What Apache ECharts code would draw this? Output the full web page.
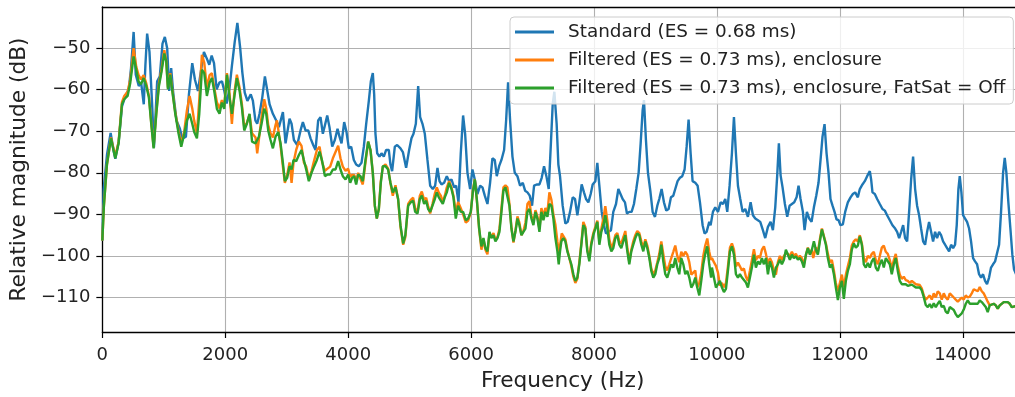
<!DOCTYPE html>
<html>
<head>
<meta charset="utf-8">
<script src="https://cdn.jsdelivr.net/npm/echarts@6/dist/echarts.min.js"></script>
<style>
html,body{margin:0;padding:0;background:#fff;}
#chart{width:1015px;height:397px;}
</style>
</head>
<body>
<div id="chart"></div>
<script>
// ---- tick labels ----
const xTicks = [0, 2000, 4000, 6000, 8000, 10000, 12000, 14000];
const yTicks = [-110, -100, -90, -80, -70, -60, -50];

// ---- series names ----
const seriesNames = [
  'Standard (ES = 0.68 ms)',
  'Filtered (ES = 0.73 ms), enclosure',
  'Filtered (ES = 0.73 ms), enclosure, FatSat = Off'
];

// ---- series values: [frequency Hz, relative magnitude dB] ----
const standardData = [[0,-96.3],[21,-84],[76,-75.6],[135,-70.4],[184,-74.8],[211,-76.6],[266,-72.5],[320,-64.0],[375,-61.5],[430,-59.9],[467,-54.8],[509,-46.1],[544,-56.4],[593,-59.1],[631,-58.3],[674,-63.5],[701,-54.0],[729,-46.5],[767,-50.9],[810,-63.5],[840,-73.9],[892,-58.0],[935,-56.8],[979,-48.9],[1017,-47.3],[1055,-50.0],[1088,-60.3],[1120,-54.8],[1153,-60.7],[1207,-67.4],[1262,-69.4],[1300,-71.8],[1360,-71.3],[1409,-61.1],[1463,-53.6],[1507,-57.6],[1556,-60.3],[1599,-56.0],[1653,-50.9],[1697,-52.4],[1740,-54.0],[1779,-51.8],[1817,-53.6],[1860,-59.9],[1904,-58.3],[1947,-58.0],[1985,-60.3],[2023,-63.3],[2067,-59.9],[2110,-54.0],[2154,-48.5],[2197,-43.9],[2241,-49.7],[2279,-56.0],[2317,-60.7],[2360,-62.7],[2415,-61.1],[2449,-62.6],[2490,-67.4],[2520,-68.2],[2558,-65.8],[2602,-61.9],[2645,-56.8],[2677,-56.4],[2721,-63.5],[2775,-65.8],[2829,-67.4],[2873,-69.0],[2938,-65.4],[2981,-72.9],[3046,-67.0],[3079,-68.2],[3117,-72.1],[3171,-73.3],[3225,-69.8],[3263,-67.8],[3306,-69.8],[3350,-69.8],[3388,-71.7],[3431,-73.3],[3469,-74.5],[3512,-67.4],[3550,-66.6],[3588,-70.6],[3621,-68.6],[3659,-66.2],[3696,-69.0],[3740,-73.7],[3783,-72.1],[3827,-69.4],[3859,-71.3],[3892,-72.9],[3935,-67.8],[3973,-70.2],[4011,-74.1],[4049,-73.7],[4092,-76.9],[4130,-78.0],[4173,-78.4],[4217,-77.6],[4255,-73.7],[4293,-68.2],[4336,-62.7],[4369,-58.0],[4401,-56.0],[4423,-61.1],[4444,-70.6],[4472,-75.3],[4509,-76.1],[4542,-75.3],[4580,-76.1],[4618,-74.5],[4661,-74.5],[4688,-78.0],[4715,-79.6],[4759,-73.7],[4797,-73.3],[4851,-74.1],[4890,-75.0],[4943,-78.8],[4992,-74.5],[5030,-71.7],[5063,-70.6],[5101,-68.2],[5139,-59.1],[5171,-66.6],[5209,-68.2],[5247,-70.6],[5290,-76.9],[5334,-83.1],[5377,-83.9],[5415,-83.1],[5453,-78.8],[5486,-82.0],[5518,-82.8],[5561,-82.4],[5605,-80.8],[5643,-82.0],[5681,-81.6],[5724,-83.5],[5757,-83.1],[5795,-87.1],[5832,-75.3],[5870,-66.2],[5903,-70.6],[5941,-80.0],[5984,-83.9],[6022,-79.2],[6060,-81.6],[6103,-85.1],[6147,-83.1],[6185,-83.5],[6223,-85.5],[6266,-87.5],[6309,-82.4],[6347,-76.5],[6385,-76.9],[6418,-80.8],[6456,-78.4],[6494,-76.9],[6537,-74.5],[6570,-67.4],[6602,-58.2],[6635,-67.4],[6673,-76.1],[6711,-80.0],[6754,-80.8],[6797,-83.1],[6841,-82.4],[6879,-84.3],[6917,-84.7],[6954,-85.5],[6992,-87.9],[7025,-83.1],[7068,-82.8],[7112,-82.8],[7149,-81.2],[7187,-78.4],[7225,-80.8],[7263,-83.9],[7296,-73.7],[7328,-63.5],[7355,-60.5],[7392,-68.2],[7420,-78.0],[7447,-80.8],[7490,-87.9],[7534,-92.2],[7572,-91.8],[7610,-89.4],[7653,-85.9],[7691,-86.3],[7729,-90.2],[7761,-87.1],[7799,-82.8],[7837,-84.7],[7870,-86.3],[7908,-87.1],[7946,-85.1],[7978,-82.8],[8022,-82.0],[8054,-77.6],[8087,-83.1],[8125,-89.4],[8162,-92.6],[8195,-94.6],[8238,-94.2],[8276,-93.8],[8314,-89.4],[8358,-87.5],[8396,-83.9],[8428,-83.5],[8466,-86.3],[8504,-87.1],[8536,-89.8],[8574,-89.4],[8612,-89.4],[8650,-87.5],[8688,-83.9],[8726,-80.0],[8759,-72.9],[8791,-65.0],[8813,-62.5],[8845,-72.1],[8878,-80.0],[8916,-84.3],[8954,-89.4],[8992,-90.6],[9030,-87.9],[9062,-86.3],[9100,-83.9],[9138,-87.1],[9176,-89.1],[9214,-88.7],[9252,-85.9],[9290,-85.5],[9322,-83.9],[9360,-82.0],[9398,-81.2],[9436,-80.8],[9474,-79.2],[9507,-73.7],[9539,-67.2],[9572,-75.3],[9604,-82.0],[9648,-82.4],[9686,-83.1],[9724,-87.1],[9767,-92.6],[9799,-94.6],[9832,-94.2],[9875,-91.8],[9897,-92.6],[9935,-89.4],[9973,-88.3],[10017,-89.4],[10060,-87.1],[10098,-87.5],[10136,-86.3],[10168,-89.4],[10206,-83.1],[10244,-75.3],[10277,-66.6],[10309,-75.3],[10342,-83.1],[10380,-86.3],[10418,-89.4],[10461,-88.7],[10504,-90.6],[10548,-87.1],[10586,-90.2],[10624,-91.0],[10667,-91.4],[10705,-91.8],[10748,-93.8],[10786,-95.7],[10830,-93.0],[10873,-91.8],[10911,-93.8],[10949,-88.3],[10981,-80.6],[11008,-72.9],[11036,-80.6],[11068,-83.5],[11106,-87.5],[11144,-90.6],[11182,-87.9],[11220,-87.5],[11258,-87.1],[11296,-85.9],[11328,-83.1],[11361,-86.3],[11399,-89.4],[11426,-93.8],[11464,-89.4],[11502,-91.0],[11540,-91.8],[11578,-88.3],[11616,-85.5],[11653,-82.4],[11686,-76.9],[11718,-71.3],[11751,-68.3],[11784,-75.3],[11816,-80.0],[11848,-86.3],[11881,-87.9],[11914,-89.4],[11946,-91.2],[11979,-91.4],[12011,-92.6],[12049,-92.4],[12087,-89.4],[12130,-87.1],[12174,-85.9],[12212,-85.1],[12250,-84.7],[12293,-85.9],[12325,-83.9],[12368,-82.8],[12406,-82.0],[12444,-80.8],[12488,-79.6],[12509,-81.6],[12531,-84.7],[12569,-85.1],[12607,-86.3],[12650,-87.5],[12694,-88.7],[12732,-89.1],[12769,-90.2],[12813,-91.4],[12856,-92.6],[12900,-93.4],[12932,-94.2],[12965,-95.7],[12997,-94.2],[13030,-92.6],[13062,-95.7],[13095,-96.5],[13127,-89.4],[13160,-81.6],[13192,-76.1],[13225,-83.9],[13257,-87.9],[13290,-90.2],[13322,-93.4],[13355,-96.5],[13387,-97.3],[13420,-94.2],[13452,-91.8],[13485,-94.2],[13517,-96.5],[13550,-94.2],[13582,-95.7],[13615,-94.2],[13647,-95.0],[13680,-96.5],[13712,-97.3],[13745,-98.1],[13778,-98.9],[13810,-97.3],[13843,-98.1],[13875,-97.3],[13902,-92.6],[13929,-83.9],[13951,-80.8],[13978,-84.7],[14005,-90.2],[14038,-91.0],[14070,-91.8],[14103,-93.4],[14135,-96.5],[14168,-100.5],[14200,-101.3],[14233,-102.0],[14265,-104.4],[14298,-105.2],[14330,-104.4],[14363,-106.0],[14395,-106.8],[14428,-105.2],[14460,-102.8],[14493,-102.0],[14526,-101.3],[14558,-101.3],[14591,-97.3],[14623,-89.4],[14656,-80.0],[14683,-76.4],[14710,-80.0],[14742,-87.1],[14775,-93.4],[14807,-99.7],[14834,-103.2],[14870,-104.5]];

const filteredData = [[0,-96.3],[25,-88],[75,-78],[140,-71.5],[211,-76],[265,-72.5],[319,-63],[357,-61.5],[411,-60.5],[455,-57.5],[509,-50.0],[552,-54.5],[590,-56.5],[628,-57.5],[672,-56.5],[715,-58.5],[758,-61.5],[796,-68],[834,-73.7],[878,-65.5],[921,-58.5],[964,-55.0],[1008,-50.5],[1040,-53],[1067,-59.5],[1105,-56],[1138,-60],[1187,-65.5],[1241,-70],[1284,-73],[1333,-70],[1376,-65],[1420,-61.5],[1463,-64.5],[1495,-67.5],[1539,-70.5],[1577,-62.5],[1620,-51.6],[1658,-53.5],[1701,-59.5],[1745,-56.5],[1783,-56],[1821,-59.5],[1864,-63],[1907,-64.5],[1945,-62.5],[1983,-64],[2027,-56],[2070,-61],[2108,-68.2],[2146,-61],[2189,-56.4],[2233,-59.5],[2271,-63.5],[2309,-69],[2352,-68],[2395,-66],[2436,-70.5],[2493,-71.5],[2520,-75.3],[2547,-72],[2591,-66.5],[2634,-62.3],[2667,-64.5],[2699,-68.5],[2737,-70.5],[2775,-71.5],[2818,-68.5],[2840,-67.4],[2862,-69.5],[2900,-73.5],[2938,-78.5],[2970,-82.4],[3008,-80.5],[3046,-77.5],[3079,-82.4],[3111,-77.5],[3154,-74.5],[3198,-72.5],[3241,-73.5],[3279,-77.5],[3317,-78.5],[3360,-81.5],[3404,-79.5],[3447,-77],[3491,-74.5],[3534,-73.7],[3577,-77.5],[3621,-79.5],[3664,-79],[3707,-78.5],[3751,-76.5],[3794,-75],[3837,-73.5],[3875,-76.5],[3913,-78.5],[3957,-79.5],[4000,-79],[4033,-81],[4065,-80.5],[4098,-80.5],[4130,-82],[4163,-80],[4201,-81.5],[4238,-82.8],[4282,-77.5],[4325,-72.5],[4363,-74.5],[4401,-80],[4434,-88],[4466,-91],[4499,-88.7],[4531,-82],[4564,-78.5],[4607,-78],[4650,-79],[4688,-82.5],[4726,-85.5],[4770,-83],[4813,-86.5],[4851,-93],[4895,-97.3],[4930,-95.5],[4976,-87.5],[5019,-86.5],[5057,-86.0],[5090,-88.5],[5128,-89.5],[5166,-85.5],[5198,-84.5],[5236,-86.5],[5269,-86.0],[5301,-88.0],[5334,-89.8],[5372,-87.5],[5410,-85.0],[5442,-83.5],[5475,-84.8],[5507,-85.5],[5540,-87.0],[5572,-85.5],[5605,-83.5],[5643,-82.0],[5681,-83.5],[5713,-85.5],[5751,-89.5],[5789,-87.0],[5832,-88.5],[5870,-90.0],[5914,-92.0],[5952,-91.5],[5995,-89.5],[6028,-84.5],[6060,-81.5],[6093,-86.5],[6131,-93.5],[6168,-98.5],[6201,-96.0],[6233,-98.5],[6266,-99.6],[6299,-94.5],[6331,-95.5],[6364,-94.5],[6396,-96.0],[6429,-95.5],[6461,-93.5],[6494,-88.5],[6526,-83.5],[6559,-83.0],[6591,-83.5],[6624,-87.5],[6656,-93.0],[6689,-96.8],[6721,-94.0],[6754,-90.5],[6786,-92.0],[6819,-95.0],[6851,-94.0],[6884,-92.0],[6917,-87.5],[6949,-86.8],[6982,-90.5],[7014,-92.0],[7047,-89.0],[7079,-90.5],[7112,-93.5],[7144,-88.5],[7177,-90.5],[7209,-88.5],[7242,-89.5],[7274,-84.7],[7307,-86.5],[7339,-90.0],[7372,-92.5],[7404,-96.5],[7426,-99.0],[7447,-97.5],[7475,-94.6],[7501,-95.0],[7534,-96.0],[7566,-98.5],[7599,-100.5],[7631,-102.5],[7664,-105.0],[7696,-106.5],[7729,-105.5],[7761,-101.5],[7794,-97.0],[7826,-91.8],[7859,-93.0],[7891,-98.5],[7924,-100.5],[7956,-96.8],[7989,-94.5],[8022,-93.0],[8054,-91.5],[8087,-96.5],[8119,-93.5],[8152,-91.0],[8184,-88.0],[8217,-91.5],[8249,-96.0],[8282,-98.0],[8314,-97.0],[8347,-95.0],[8379,-94.5],[8412,-96.5],[8444,-97.0],[8477,-95.5],[8509,-94.0],[8542,-98.0],[8574,-101.5],[8607,-98.5],[8639,-96.5],[8672,-95.0],[8704,-94.0],[8737,-94.5],[8770,-96.5],[8802,-98.0],[8835,-96.0],[8867,-97.5],[8900,-100.0],[8932,-103.0],[8965,-104.5],[8997,-103.5],[9030,-101.5],[9062,-99.5],[9095,-96.5],[9127,-99.5],[9160,-102.5],[9192,-103.5],[9225,-102.0],[9257,-100.5],[9290,-99.0],[9322,-97.5],[9355,-100.0],[9387,-101.5],[9420,-99.0],[9453,-100.0],[9485,-99.0],[9518,-99.7],[9550,-101.5],[9583,-104.5],[9615,-104.0],[9648,-103.5],[9680,-107.6],[9713,-106.5],[9745,-104.0],[9778,-100.0],[9810,-97.5],[9843,-95.8],[9875,-99.0],[9905,-101.0],[9919,-100.5],[9951,-101.5],[9984,-102.4],[10017,-104.0],[10049,-107.1],[10082,-106.5],[10114,-107.5],[10147,-106.5],[10179,-102.5],[10212,-98.0],[10244,-97.0],[10277,-98.5],[10309,-102.5],[10342,-101.6],[10374,-102.5],[10407,-103.5],[10439,-103.0],[10472,-105.0],[10504,-106.0],[10537,-103.5],[10569,-101.0],[10602,-98.4],[10634,-101.0],[10667,-100.0],[10699,-100.5],[10732,-98.5],[10765,-97.7],[10797,-99.5],[10830,-102.0],[10862,-100.5],[10895,-101.5],[10927,-103.5],[10960,-104.5],[10992,-101.5],[11025,-100.0],[11057,-101.0],[11090,-100.0],[11133,-99.2],[11155,-99.5],[11187,-100.0],[11220,-99.0],[11252,-100.0],[11285,-99.5],[11317,-100.5],[11350,-100.0],[11382,-100.5],[11415,-102.0],[11458,-99.2],[11480,-98.0],[11513,-99.5],[11545,-98.5],[11567,-100.5],[11610,-98.0],[11643,-99.0],[11675,-96.0],[11708,-93.4],[11740,-93.6],[11773,-97.0],[11805,-99.5],[11838,-101.5],[11870,-101.0],[11903,-103.5],[11935,-106.5],[11968,-108.5],[12000,-106.5],[12033,-104.5],[12065,-107.5],[12098,-104.5],[12130,-102.5],[12163,-100.5],[12195,-97.5],[12228,-96.5],[12260,-96.0],[12293,-96.5],[12325,-95.0],[12358,-97.0],[12390,-100.5],[12423,-101.5],[12455,-100.0],[12488,-100.5],[12520,-99.5],[12553,-99.0],[12585,-101.0],[12618,-102.0],[12650,-100.0],[12683,-98.0],[12715,-97.5],[12748,-99.0],[12780,-99.5],[12813,-101.0],[12845,-103.0],[12878,-101.0],[12910,-99.5],[12943,-102.5],[12975,-104.5],[13008,-105.5],[13040,-105.0],[13073,-105.8],[13106,-106.0],[13138,-106.5],[13171,-106.0],[13203,-106.3],[13236,-106.8],[13268,-106.5],[13301,-107.0],[13333,-107.8],[13366,-109.5],[13398,-110.5],[13431,-110.0],[13463,-109.5],[13496,-110.5],[13528,-109.0],[13561,-110.0],[13593,-108.5],[13626,-109.0],[13658,-110.5],[13691,-109.0],[13723,-110.0],[13756,-110.5],[13789,-109.0],[13821,-109.5],[13854,-110.0],[13886,-110.5],[13919,-111.0],[13951,-110.5],[13984,-110.0],[14016,-110.5],[14049,-109.5],[14081,-110.0],[14114,-109.8],[14146,-109.0],[14179,-108.0],[14211,-107.6],[14244,-108.5],[14276,-107.5],[14309,-108.5],[14341,-109.0],[14374,-110.0],[14406,-111.0],[14439,-111.9],[14471,-111.9],[14504,-111.5],[14537,-111.9],[14569,-112.7],[14602,-111.9],[14634,-111.5],[14667,-111.1],[14699,-110.7],[14732,-111.1],[14765,-111.5],[14797,-112.3],[14829,-112.3],[14870,-112.0]];

const fatSatOffData = [[0,-96.3],[25,-88],[75,-78.0],[140,-71.7],[211,-76.5],[265,-72.9],[319,-63.5],[357,-62.3],[411,-61.5],[455,-58.3],[509,-52.0],[552,-55.2],[590,-58.0],[628,-58.7],[672,-57.2],[715,-59.1],[758,-61.9],[796,-68.2],[834,-74.1],[878,-65.8],[921,-59.1],[964,-55.6],[1008,-51.3],[1040,-53.2],[1067,-59.9],[1105,-56.4],[1138,-60.3],[1187,-65.8],[1241,-70.6],[1284,-73.7],[1333,-70.6],[1376,-67.4],[1420,-65.8],[1463,-68.2],[1495,-70.2],[1539,-71.7],[1577,-65.8],[1620,-55.2],[1658,-56.0],[1701,-61.5],[1745,-58.3],[1783,-57.2],[1821,-60.3],[1864,-64.6],[1907,-65.8],[1945,-63.1],[1983,-64.6],[2027,-56.4],[2070,-61.9],[2108,-65.8],[2146,-61.9],[2189,-57.2],[2233,-60.3],[2271,-64.3],[2309,-69.8],[2352,-68.2],[2395,-65.8],[2436,-72.5],[2493,-72.9],[2547,-71.3],[2591,-68.2],[2634,-64.6],[2667,-65.8],[2699,-69.8],[2737,-72.1],[2775,-74.1],[2818,-71.3],[2862,-70.2],[2900,-72.9],[2938,-77.6],[2970,-82.0],[3008,-81.2],[3046,-78.4],[3079,-79.2],[3111,-76.9],[3154,-77.2],[3198,-75.7],[3241,-74.5],[3279,-76.9],[3317,-79.2],[3360,-82.0],[3404,-80.0],[3447,-78.4],[3491,-76.9],[3534,-74.9],[3577,-77.2],[3621,-80.8],[3664,-80.4],[3707,-80.4],[3751,-79.2],[3794,-79.2],[3837,-77.2],[3875,-79.2],[3913,-80.8],[3957,-81.6],[4000,-80.4],[4033,-82.4],[4065,-81.2],[4098,-80.8],[4130,-82.8],[4163,-80.4],[4201,-80.8],[4238,-82.0],[4282,-76.9],[4325,-72.5],[4363,-74.5],[4401,-80.0],[4434,-87.9],[4466,-91.0],[4499,-88.7],[4531,-82.4],[4564,-78.4],[4607,-78.4],[4650,-79.2],[4688,-82.4],[4726,-84.7],[4770,-83.5],[4813,-86.3],[4851,-92.6],[4895,-97.0],[4930,-95.0],[4976,-87.9],[5019,-87.1],[5057,-86.7],[5090,-89.4],[5128,-89.8],[5166,-86.3],[5198,-85.5],[5236,-87.5],[5269,-86.7],[5301,-88.7],[5334,-89.4],[5372,-87.9],[5410,-86.3],[5442,-84.7],[5475,-85.9],[5507,-86.3],[5540,-87.5],[5572,-85.9],[5605,-84.7],[5643,-82.4],[5681,-83.9],[5713,-85.9],[5751,-91.0],[5789,-87.9],[5832,-89.4],[5870,-89.4],[5914,-91.4],[5952,-91.0],[5995,-89.4],[6028,-84.7],[6060,-81.6],[6093,-86.3],[6131,-93.4],[6168,-97.7],[6201,-95.7],[6233,-98.1],[6266,-98.9],[6299,-94.2],[6331,-95.7],[6364,-95.0],[6396,-96.5],[6429,-95.7],[6461,-94.2],[6494,-89.4],[6526,-84.3],[6559,-83.5],[6591,-83.9],[6624,-87.9],[6656,-93.4],[6689,-96.5],[6721,-94.2],[6754,-91.0],[6786,-92.6],[6819,-95.0],[6851,-94.2],[6884,-93.4],[6917,-89.4],[6949,-88.7],[6982,-91.0],[7014,-92.6],[7047,-89.4],[7079,-91.0],[7112,-94.2],[7144,-89.4],[7177,-91.4],[7209,-89.4],[7242,-90.6],[7274,-87.5],[7307,-87.9],[7339,-91.0],[7372,-95.7],[7404,-98.9],[7426,-102.0],[7447,-98.9],[7469,-96.5],[7501,-95.7],[7534,-96.5],[7566,-98.9],[7599,-100.5],[7631,-102.0],[7664,-104.4],[7696,-106.0],[7729,-105.2],[7761,-102.0],[7794,-97.3],[7826,-92.6],[7859,-93.4],[7891,-98.9],[7924,-101.3],[7956,-97.3],[7989,-95.0],[8022,-93.4],[8054,-91.8],[8087,-97.3],[8119,-94.2],[8152,-92.6],[8184,-90.2],[8217,-93.4],[8249,-97.3],[8282,-98.9],[8314,-98.1],[8347,-95.7],[8379,-95.0],[8412,-97.3],[8444,-98.1],[8477,-96.5],[8509,-95.0],[8542,-98.9],[8574,-102.0],[8607,-98.9],[8639,-97.3],[8672,-95.7],[8704,-94.6],[8737,-95.0],[8770,-97.3],[8802,-98.9],[8835,-96.5],[8867,-98.1],[8900,-100.5],[8932,-103.6],[8965,-105.2],[8997,-104.4],[9030,-102.0],[9062,-100.5],[9095,-97.3],[9127,-101.3],[9160,-104.4],[9192,-105.2],[9225,-103.6],[9257,-102.0],[9290,-102.8],[9322,-100.5],[9355,-102.8],[9387,-104.4],[9420,-100.5],[9453,-102.0],[9485,-104.4],[9518,-103.6],[9550,-105.2],[9583,-107.6],[9615,-106.8],[9648,-105.2],[9680,-107.6],[9713,-109.5],[9745,-106.0],[9778,-102.0],[9810,-99.5],[9843,-97.7],[9875,-102.0],[9905,-105.2],[9919,-102.8],[9951,-105.2],[9984,-107.6],[10017,-106.8],[10049,-106.0],[10082,-107.6],[10114,-108.7],[10147,-107.9],[10179,-103.6],[10212,-98.9],[10244,-97.7],[10277,-99.7],[10309,-104.4],[10342,-105.2],[10374,-104.4],[10407,-105.2],[10439,-104.8],[10472,-106.4],[10504,-107.6],[10537,-105.2],[10569,-102.8],[10602,-99.7],[10634,-102.8],[10667,-101.3],[10699,-102.0],[10732,-100.5],[10765,-102.0],[10797,-100.5],[10830,-104.4],[10862,-101.3],[10895,-102.8],[10927,-105.2],[10960,-102.8],[10992,-102.0],[11025,-100.9],[11057,-102.0],[11090,-100.9],[11122,-98.5],[11155,-99.7],[11187,-100.9],[11220,-99.7],[11252,-100.5],[11285,-100.1],[11317,-100.9],[11350,-100.5],[11382,-101.3],[11415,-102.8],[11448,-99.7],[11480,-98.1],[11513,-99.7],[11545,-98.5],[11578,-96.5],[11610,-98.5],[11643,-99.7],[11675,-96.5],[11708,-93.6],[11740,-93.8],[11773,-97.3],[11805,-100.5],[11838,-102.8],[11870,-102.0],[11903,-104.4],[11935,-107.6],[11968,-110.6],[12000,-107.6],[12033,-106.0],[12065,-110.3],[12098,-106.0],[12130,-103.6],[12163,-102.0],[12195,-98.5],[12228,-97.0],[12260,-98.0],[12293,-97.5],[12325,-95.3],[12358,-97.3],[12390,-102.0],[12423,-102.8],[12455,-101.7],[12488,-102.8],[12520,-101.3],[12553,-100.5],[12585,-102.8],[12618,-103.6],[12650,-102.0],[12683,-100.9],[12715,-102.8],[12748,-100.5],[12780,-100.9],[12813,-102.0],[12845,-104.4],[12878,-102.0],[12910,-100.5],[12943,-103.6],[12975,-106.0],[13008,-106.8],[13040,-106.4],[13073,-106.8],[13106,-107.2],[13138,-107.6],[13171,-106.9],[13203,-107.2],[13236,-107.6],[13268,-107.2],[13301,-107.6],[13333,-108.3],[13366,-109.9],[13398,-111.8],[13431,-112.3],[13463,-111.6],[13496,-112.5],[13528,-111.4],[13561,-112.3],[13593,-111.5],[13626,-110.8],[13658,-112.3],[13691,-112.0],[13723,-113.4],[13756,-113.8],[13789,-112.3],[13821,-112.6],[13854,-113.0],[13886,-114.0],[13919,-114.7],[13951,-114.6],[13984,-113.8],[14016,-112.9],[14049,-111.5],[14081,-110.7],[14114,-111.5],[14146,-111.9],[14179,-111.5],[14211,-111.1],[14244,-111.5],[14276,-110.7],[14309,-111.1],[14341,-111.5],[14374,-112.3],[14406,-113.5],[14439,-111.9],[14471,-111.9],[14504,-111.5],[14537,-111.9],[14569,-112.7],[14602,-111.9],[14634,-111.5],[14667,-111.1],[14699,-110.7],[14732,-111.1],[14765,-111.5],[14797,-112.3],[14829,-112.3],[14870,-112.0]];

const colors = ['#1f77b4', '#ff7f0e', '#2ca02c'];
const FONT = 'DejaVu Sans';
const minusFmt = v => (v < 0 ? '\u2212' : '') + Math.abs(v);

const chart = echarts.init(document.getElementById('chart'), null, {renderer: 'canvas'});
const X_MAX = 14850;
chart.setOption({
  animation: false,
  color: colors,
  grid: {left: 102, right: 0, top: 7, bottom: 61, show: false},
  xAxis: [{
    type: 'value', min: 0, max: X_MAX,
    axisLine: {show: true, onZero: false, lineStyle: {color: '#000', width: 1.3}},
    splitLine: {show: true, lineStyle: {color: '#b0b0b0', width: 1.1}},
    axisTick: {show: true, length: 6, inside: false, lineStyle: {color: '#000', width: 1.2}, customValues: xTicks},
    axisLabel: {customValues: xTicks, margin: 14, fontSize: 18, color: '#222', fontFamily: FONT, formatter: minusFmt},
    name: 'Frequency (Hz)', nameLocation: 'middle', nameGap: 38,
    nameTextStyle: {fontSize: 21.7, color: '#222', fontFamily: FONT, padding: [0, 0, 0, 8]}
  }, {
    type: 'value', position: 'top', min: 0, max: X_MAX,
    axisLine: {show: true, onZero: false, lineStyle: {color: '#000', width: 1.3}},
    axisTick: {show: false}, axisLabel: {show: false}, splitLine: {show: false}
  }],
  yAxis: {
    type: 'value', min: -118.3, max: -40.1,
    axisLine: {show: true, onZero: false, lineStyle: {color: '#000', width: 1.3}},
    splitLine: {show: true, lineStyle: {color: '#b0b0b0', width: 1.1}},
    axisTick: {show: true, length: 6, inside: false, lineStyle: {color: '#000', width: 1.2}, customValues: yTicks},
    axisLabel: {customValues: yTicks, margin: 12, fontSize: 18, color: '#222', fontFamily: FONT, formatter: minusFmt},
    name: 'Relative magnitude (dB)', nameLocation: 'middle', nameGap: 69,
    nameTextStyle: {fontSize: 21.7, color: '#222', fontFamily: FONT}
  },
  legend: {
    orient: 'vertical', left: 510, top: 17,
    padding: [5, 8, 6, 5], itemGap: 8, itemWidth: 39, itemHeight: 3, icon: 'rect',
    backgroundColor: 'rgba(255,255,255,0.8)', borderColor: '#cccccc', borderWidth: 1, borderRadius: 4,
    textStyle: {fontSize: 18.4, lineHeight: 20, color: '#222', fontFamily: FONT, padding: [0, 0, 0, 9]},
    data: seriesNames
  },
  series: [
    {name: seriesNames[0], type: 'line', data: standardData, symbol: 'none', lineStyle: {width: 2.4, color: colors[0]}, z: 2},
    {name: seriesNames[1], type: 'line', data: filteredData, symbol: 'none', lineStyle: {width: 2.4, color: colors[1]}, z: 3},
    {name: seriesNames[2], type: 'line', data: fatSatOffData, symbol: 'none', lineStyle: {width: 2.4, color: colors[2]}, z: 4}
  ]
});
</script>
</body>
</html>
